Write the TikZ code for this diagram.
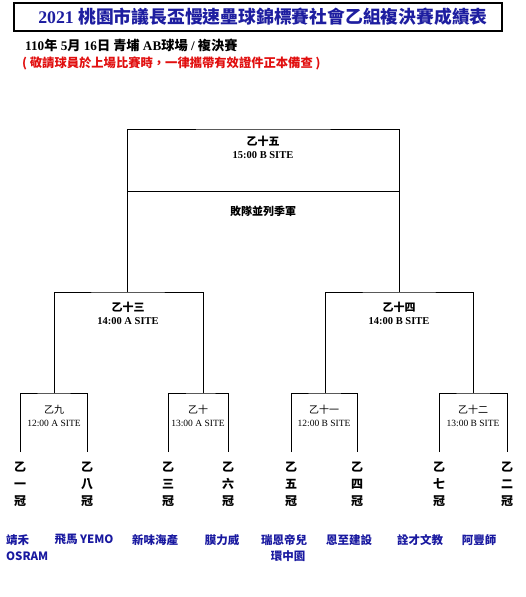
\documentclass[tikz,border=0pt]{standalone}
\usepackage{fontspec}
\setmainfont{Liberation Serif}
\newfontfamily\cjk{Noto Sans CJK TC}
\usetikzlibrary{positioning,calc}
\definecolor{titleblue}{RGB}{30,30,160}
\definecolor{teamblue}{RGB}{25,25,160}
\definecolor{notered}{RGB}{225,15,15}
\tikzstyle{line} = [draw, line width=0.8pt]
\tikzstyle{game} = [inner sep=0pt, font=\cjk\bfseries\fontsize{11}{13}\selectfont]
\tikzstyle{slot} = [inner sep=0pt, font=\bfseries\fontsize{10.5}{12}\selectfont]
\tikzstyle{seed} = [inner sep=0pt, align=center, font=\cjk\bfseries\fontsize{12}{17}\selectfont]
\tikzstyle{team} = [inner sep=0pt, anchor=north, align=center, text=teamblue, font=\cjk\bfseries\fontsize{11.5}{16}\selectfont]

\begin{document}
\begin{tikzpicture}[x=1pt, y=-1pt]
    \useasboundingbox (0,0) rectangle (525,597);
    % heading
    \node [draw, line width=2.4pt, minimum width=488pt, minimum height=28pt, inner sep=0pt] (title) at (258,17) {};
    \node [text=titleblue, inner sep=0pt] (title-txt) at (263,17) {\fontsize{17.8}{19}\selectfont\bfseries 2021 {\cjk 桃園市議長盃慢速壘球錦標賽社會乙組複決賽成績表}};
    \node [anchor=west, inner sep=0pt] (date) at (25,45) {\fontsize{13.2}{15}\selectfont\bfseries 110{\cjk 年} 5{\cjk 月} 16{\cjk 日 青埔} AB{\cjk 球場} / {\cjk 複決賽}};
    \node [anchor=west, inner sep=0pt, text=notered] (note) at (22,63) {\cjk\bfseries\fontsize{12.3}{14}\selectfont (\ 敬請球員於上場比賽時，一律攜帶有效證件正本備查\ )};

    % final
    \coordinate (f-top) at (263,129);
    \coordinate (f-l) at (127,292);
    \coordinate (f-r) at (399,292);
    \path [line] (f-l) |- (f-top) -| (f-r);
    \path [line] (f-l |- 0,191) -- (f-r |- 0,191);
    \node [game] (g15) at (263,141) {乙十五};
    \node [slot, below=5pt of g15] (g15-time) {15:00 B SITE};
    \node [game] (third) at (263,211) {敗隊並列季軍};

    % semi finals
    \coordinate (s13-l) at (54,393);
    \coordinate (s13-r) at (203,393);
    \coordinate (s14-l) at (325,393);
    \coordinate (s14-r) at (473,393);
    \path [line] (s13-l) |- (f-l) -| (s13-r);
    \path [line] (s14-l) |- (f-r) -| (s14-r);
    \node [game] (g13) at (128,307) {乙十三};
    \node [slot, below=5pt of g13] (g13-time) {14:00 A SITE};
    \node [game] (g14) at (399,307) {乙十四};
    \node [slot, below=5pt of g14] (g14-time) {14:00 B SITE};

    % quarter finals
    \coordinate (q9-l) at (20,452);
    \coordinate (q9-r) at (87,452);
    \coordinate (q10-l) at (168,452);
    \coordinate (q10-r) at (228,452);
    \coordinate (q11-l) at (291,452);
    \coordinate (q11-r) at (357,452);
    \coordinate (q12-l) at (439,452);
    \coordinate (q12-r) at (507,452);
    \path [line] (q9-l) |- (s13-l) -| (q9-r);
    \path [line] (q10-l) |- (s13-r) -| (q10-r);
    \path [line] (q11-l) |- (s14-l) -| (q11-r);
    \path [line] (q12-l) |- (s14-r) -| (q12-r);
    \node [game, font=\cjk\fontsize{10}{12}\selectfont] (g9) at (54,410) {乙九};
    \node [slot, font=\fontsize{9.5}{11}\selectfont, below=5pt of g9] (g9-time) {12:00 A SITE};
    \node [game, font=\cjk\fontsize{10}{12}\selectfont] (g10) at (198,410) {乙十};
    \node [slot, font=\fontsize{9.5}{11}\selectfont, below=5pt of g10] (g10-time) {13:00 A SITE};
    \node [game, font=\cjk\fontsize{10}{12}\selectfont] (g11) at (324,410) {乙十一};
    \node [slot, font=\fontsize{9.5}{11}\selectfont, below=5pt of g11] (g11-time) {12:00 B SITE};
    \node [game, font=\cjk\fontsize{10}{12}\selectfont] (g12) at (473,410) {乙十二};
    \node [slot, font=\fontsize{9.5}{11}\selectfont, below=5pt of g12] (g12-time) {13:00 B SITE};

    % seeds
    \node [seed, below=10pt of q9-l] (s1) {乙\\一\\冠};
    \node [seed, below=10pt of q9-r] (s8) {乙\\八\\冠};
    \node [seed, below=10pt of q10-l] (s3) {乙\\三\\冠};
    \node [seed, below=10pt of q10-r] (s6) {乙\\六\\冠};
    \node [seed, below=10pt of q11-l] (s5) {乙\\五\\冠};
    \node [seed, below=10pt of q11-r] (s4) {乙\\四\\冠};
    \node [seed, below=10pt of q12-l] (s7) {乙\\七\\冠};
    \node [seed, below=10pt of q12-r] (s2) {乙\\二\\冠};

    % teams
    \node [team, anchor=north west, align=left] (t1) at (6,534) {靖禾\\OSRAM};
    \node [team] (t8) at (84,534) {飛馬 YEMO};
    \node [team] (t3) at (155,534) {新味海產};
    \node [team] (t6) at (222,534) {膜力威};
    \node [team] (t5) at (284,534) {瑞恩帝兒\\\hspace*{8pt}環中園};
    \node [team] (t4) at (349,534) {恩至建設};
    \node [team] (t7) at (420,534) {詮才文教};
    \node [team] (t2) at (479,534) {阿豐師};
\end{tikzpicture}
\end{document}
